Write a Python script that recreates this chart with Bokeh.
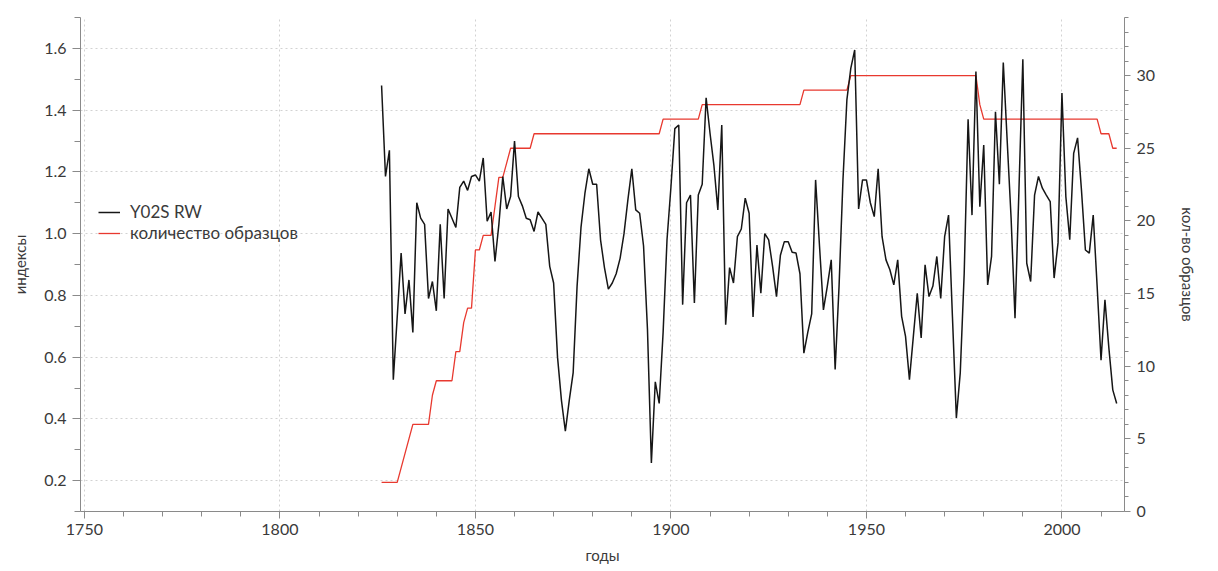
from bokeh.plotting import figure
from bokeh.models import Range1d, LinearAxis, FixedTicker, Legend, LegendItem, PrintfTickFormatter
from bokeh.embed import file_html
from bokeh.resources import INLINE

# ---- data ----
years = list(range(1826, 2015))

rw_index = [
    # 1826-1835
    1.48, 1.185, 1.27, 0.527, 0.73, 0.937, 0.74, 0.85, 0.68, 1.10,
    # 1836-1845
    1.05, 1.03, 0.79, 0.845, 0.75, 1.03, 0.79, 1.08, 1.05, 1.02,
    # 1846-1855
    1.15, 1.17, 1.14, 1.185, 1.19, 1.17, 1.245, 1.04, 1.07, 0.91,
    # 1856-1865
    1.03, 1.185, 1.08, 1.12, 1.30, 1.12, 1.09, 1.05, 1.045, 1.007,
    # 1866-1875
    1.07, 1.05, 1.03, 0.894, 0.84, 0.60, 0.46, 0.36, 0.46, 0.55,
    # 1876-1885
    0.83, 1.02, 1.13, 1.21, 1.16, 1.16, 0.98, 0.89, 0.82, 0.84,
    # 1886-1895
    0.87, 0.92, 1.00, 1.11, 1.21, 1.077, 1.066, 0.96, 0.69, 0.257,
    # 1896-1905
    0.52, 0.45, 0.68, 0.98, 1.15, 1.34, 1.352, 0.77, 1.10, 1.125,
    # 1906-1915
    0.775, 1.125, 1.16, 1.44, 1.325, 1.22, 1.077, 1.352, 0.705, 0.89,
    # 1916-1925
    0.84, 0.99, 1.015, 1.115, 1.066, 0.73, 0.963, 0.807, 1.00, 0.98,
    # 1926-1935
    0.894, 0.796, 0.93, 0.974, 0.974, 0.94, 0.937, 0.87, 0.613, 0.68,
    # 1936-1945
    0.74, 1.174, 0.96, 0.753, 0.83, 0.915, 0.56, 0.83, 1.174, 1.433,
    # 1946-1955
    1.535, 1.595, 1.08, 1.174, 1.174, 1.10, 1.055, 1.21, 0.99, 0.915,
    # 1956-1965
    0.883, 0.834, 0.915, 0.732, 0.667, 0.527, 0.667, 0.807, 0.662, 0.899,
    # 1966-1975
    0.796, 0.83, 0.926, 0.79, 0.99, 1.06, 0.73, 0.403, 0.55, 0.87,
    # 1976-1985
    1.37, 1.06, 1.525, 1.087, 1.287, 0.834, 0.926, 1.395, 1.16, 1.554,
    # 1986-1995
    1.30, 1.05, 0.726, 1.14, 1.565, 0.904, 0.845, 1.125, 1.185, 1.147,
    # 1996-2005
    1.125, 1.104, 0.856, 0.97, 1.455, 1.12, 0.98, 1.26, 1.31, 1.14,
    # 2006-2014
    0.947, 0.937, 1.06, 0.83, 0.59, 0.786, 0.63, 0.494, 0.45,
]

sample_count = (
    [2] * 5                      # 1826-1830
    + [3, 4, 5]                  # 1831-1833
    + [6] * 5                    # 1834-1838
    + [8]                        # 1839
    + [9] * 5                    # 1840-1844
    + [11, 11]                   # 1845-1846
    + [13, 14, 14]               # 1847-1849
    + [18, 18]                   # 1850-1851
    + [19, 19, 19]               # 1852-1854
    + [21, 23, 23, 24]           # 1855-1858
    + [25] * 6                   # 1859-1864
    + [26] * 33                  # 1865-1897
    + [27] * 10                  # 1898-1907
    + [28] * 26                  # 1908-1933
    + [29] * 12                  # 1934-1945
    + [30] * 33                  # 1946-1978
    + [28]                       # 1979
    + [27] * 30                  # 1980-2009
    + [26] * 3                   # 2010-2012
    + [25] * 2                   # 2013-2014
)

x_major = [1750, 1800, 1850, 1900, 1950, 2000]
x_minor = list(range(1750, 2016, 10))
y_major = [0.2, 0.4, 0.6, 0.8, 1.0, 1.2, 1.4, 1.6]
y_minor = [0.1, 0.3, 0.5, 0.7, 0.9, 1.1, 1.3, 1.5, 1.7]
r_major = [0, 5, 10, 15, 20, 25, 30]
r_minor = list(range(0, 35))

assert len(rw_index) == len(years)
assert len(sample_count) == len(years)

FONT = "Lato"
AXIS_COL = "#8a8a8a"
TEXT_COL = "#3a3a3a"

p = figure(
    width=1214, height=570,
    output_backend="svg", toolbar_location=None,
    x_range=Range1d(1749, 2016), y_range=Range1d(0.1, 1.7),
    min_border_left=80, min_border_right=90, min_border_top=17, min_border_bottom=59,
)
p.outline_line_color = None
p.background_fill_color = "white"
p.border_fill_color = "white"

p.extra_y_ranges = {"right": Range1d(0, 34)}

# lines
r_cnt = p.line(years, sample_count, y_range_name="right", line_color="#e8392f", line_width=1.3)
r_rw = p.line(years, rw_index, line_color="#161616", line_width=1.5)

# axes styling
def style_axis(ax, tick_out, minor_out, standoff, label_standoff):
    ax.axis_line_color = AXIS_COL
    ax.major_tick_line_color = AXIS_COL
    ax.minor_tick_line_color = AXIS_COL
    ax.major_tick_in = 0
    ax.minor_tick_in = 0
    ax.major_tick_out = tick_out
    ax.minor_tick_out = minor_out
    ax.major_label_standoff = standoff
    ax.axis_label_standoff = label_standoff
    ax.major_label_text_font = FONT
    ax.major_label_text_font_size = "16px"
    ax.major_label_text_color = TEXT_COL
    ax.axis_label_text_font = FONT
    ax.axis_label_text_font_size = "15px"
    ax.axis_label_text_font_style = "normal"
    ax.axis_label_text_color = TEXT_COL

xax = p.xaxis[0]
xax.ticker = FixedTicker(ticks=x_major, minor_ticks=x_minor)
xax.axis_label = "годы"
style_axis(xax, 7, 5, 5, 8)

yax = p.yaxis[0]
yax.ticker = FixedTicker(ticks=y_major, minor_ticks=y_minor)
yax.formatter = PrintfTickFormatter(format="%.1f")
yax.axis_label = "индексы"
yax.major_label_orientation = "horizontal"
style_axis(yax, 8, 6, 6, 12)

rax = LinearAxis(y_range_name="right", axis_label="кол-во образцов",
                 ticker=FixedTicker(ticks=r_major, minor_ticks=r_minor))
style_axis(rax, 6, 4, 6, 21)
p.add_layout(rax, "right")

# grid
p.xgrid.ticker = FixedTicker(ticks=x_major)
p.ygrid.ticker = FixedTicker(ticks=y_major)
for g in (p.xgrid[0], p.ygrid[0]):
    g.grid_line_color = "#d2d2d2"
    g.grid_line_dash = "2 3"
    g.grid_line_width = 1

# legend
legend = Legend(
    items=[LegendItem(label="Y02S RW", renderers=[r_rw]),
           LegendItem(label="количество образцов", renderers=[r_cnt])],
    location=(18, 268),
    orientation="vertical",
    padding=0, margin=0, spacing=0,
    glyph_width=22, glyph_height=20, label_height=20, label_standoff=10,
    label_text_font=FONT, label_text_font_size="17px", label_text_color=TEXT_COL,
    border_line_color=None, background_fill_alpha=0,
)
p.add_layout(legend)

open("out.html", "w").write(file_html(p, INLINE))
